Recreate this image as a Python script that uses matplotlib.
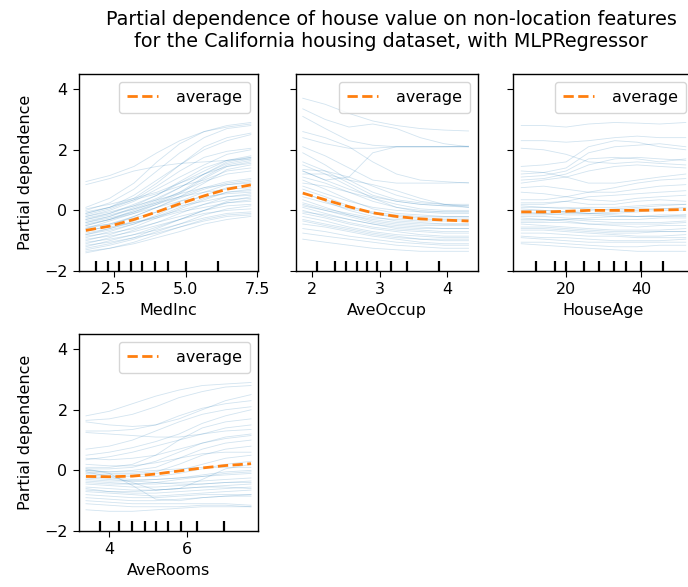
import matplotlib
matplotlib.use("Agg")
import matplotlib.pyplot as plt

W, H = 688, 587

features = ["MedInc", "AveOccup", "HouseAge", "AveRooms"]

# grids (feature values at which the curves are shown)
medinc_grid = [1.52, 2.35, 3.2, 4.0, 4.8, 5.65, 6.45, 7.28]
aveoccup_grid = [1.87, 2.2, 2.55, 2.9, 3.25, 3.6, 3.95, 4.31]
houseage_grid = [8, 14, 20, 26, 33, 39, 45, 52]
averooms_grid = [3.4, 4.0, 4.6, 5.2, 5.8, 6.4, 7.0, 7.66]

# x tick values
medinc_ticks = [2.5, 5.0, 7.5]
aveoccup_ticks = [2, 3, 4]
houseage_ticks = [20, 40]
averooms_ticks = [4, 6]

# deciles (rug ticks)
medinc_deciles = [1.87, 2.30, 2.68, 3.09, 3.49, 3.92, 4.38, 5.02, 6.15]
aveoccup_deciles = [2.08, 2.34, 2.51, 2.67, 2.82, 2.97, 3.17, 3.40, 3.87]
houseage_deciles = [12.0, 16.9, 20.0, 24.9, 28.9, 32.9, 36.0, 40.0, 45.9]
averooms_deciles = [3.76, 4.25, 4.60, 4.92, 5.22, 5.51, 5.85, 6.27, 6.97]

# average partial dependence
medinc_avg = [-0.66, -0.52, -0.30, -0.05, 0.22, 0.48, 0.70, 0.84]
aveoccup_avg = [0.57, 0.35, 0.12, -0.08, -0.20, -0.28, -0.32, -0.35]
houseage_avg = [-0.05, -0.05, -0.03, 0.0, 0.0, 0.0, 0.01, 0.03]
averooms_avg = [-0.20, -0.21, -0.19, -0.12, -0.02, 0.08, 0.16, 0.22]

# individual conditional expectation lines
medinc_ice = [
    [0.95, 1.15, 1.45, 1.9, 2.3, 2.6, 2.8, 2.9],
    [0.85, 1.05, 1.3, 1.45, 1.55, 1.6, 1.65, 1.7],
    [0.1, 0.4, 0.9, 1.6, 2.2, 2.6, 2.75, 2.85],
    [0.0, 0.25, 0.7, 1.3, 1.9, 2.4, 2.7, 2.8],
    [-0.1, 0.1, 0.5, 1.0, 1.5, 2.0, 2.3, 2.5],
    [-0.2, 0.0, 0.3, 0.7, 1.1, 1.5, 1.85, 2.0],
    [-0.3, -0.1, 0.2, 0.5, 0.9, 1.3, 1.65, 1.8],
    [-0.4, -0.2, 0.1, 0.4, 0.75, 1.2, 1.55, 1.7],
    [-0.5, -0.3, 0.0, 0.3, 0.6, 1.1, 1.5, 1.65],
    [-0.6, -0.35, -0.1, 0.2, 0.55, 1.05, 1.45, 1.6],
    [0.05, 0.2, 0.4, 0.6, 0.9, 1.2, 1.45, 1.55],
    [-0.05, 0.1, 0.35, 0.55, 0.8, 1.0, 1.3, 1.4],
    [-0.7, -0.5, -0.2, 0.1, 0.45, 0.9, 1.35, 1.5],
    [-0.8, -0.6, -0.35, -0.05, 0.3, 0.6, 0.85, 0.95],
    [-0.2, -0.05, 0.15, 0.35, 0.55, 0.75, 0.85, 0.9],
    [-0.9, -0.7, -0.45, -0.15, 0.2, 0.5, 0.75, 0.85],
    [-0.3, -0.15, 0.05, 0.25, 0.45, 0.6, 0.7, 0.75],
    [-1.0, -0.8, -0.55, -0.25, 0.05, 0.35, 0.6, 0.7],
    [-0.45, -0.3, -0.1, 0.1, 0.3, 0.45, 0.55, 0.6],
    [-1.1, -0.9, -0.65, -0.4, -0.1, 0.2, 0.45, 0.55],
    [-0.55, -0.45, -0.25, -0.05, 0.15, 0.3, 0.45, 0.5],
    [-0.75, -0.6, -0.4, -0.2, 0.0, 0.2, 0.35, 0.4],
    [-1.2, -1.0, -0.8, -0.55, -0.3, 0.0, 0.25, 0.35],
    [-0.65, -0.55, -0.4, -0.25, -0.05, 0.1, 0.25, 0.3],
    [-0.85, -0.75, -0.6, -0.4, -0.2, 0.0, 0.15, 0.2],
    [-1.3, -1.15, -0.95, -0.7, -0.45, -0.15, 0.05, 0.15],
    [-0.95, -0.85, -0.7, -0.5, -0.3, -0.1, 0.0, 0.05],
    [-1.05, -0.95, -0.8, -0.65, -0.45, -0.25, -0.1, -0.05],
    [-1.4, -1.25, -1.05, -0.8, -0.55, -0.3, -0.15, -0.1],
    [-1.15, -1.05, -0.9, -0.75, -0.55, -0.35, -0.2, -0.15],
    [-1.35, -1.25, -1.1, -0.9, -0.7, -0.45, -0.3, -0.2],
    [-0.35, -0.2, 0.05, 0.35, 0.75, 1.2, 1.6, 1.75],
    [-0.5, -0.3, -0.05, 0.25, 0.6, 0.95, 1.2, 1.3],
    [-0.6, -0.45, -0.2, 0.1, 0.4, 0.7, 0.9, 1.0],
    [-0.25, -0.1, 0.15, 0.5, 0.95, 1.4, 1.65, 1.75],
    [-0.15, 0.05, 0.35, 0.8, 1.3, 1.75, 1.95, 2.05],
    [-1.25, -1.1, -0.9, -0.6, -0.3, 0.0, 0.3, 0.45],
    [-0.8, -0.65, -0.45, -0.2, 0.1, 0.4, 0.6, 0.65],
    [-0.1, 0.1, 0.4, 0.9, 1.5, 2.1, 2.4, 2.55],
    [-0.4, -0.25, -0.05, 0.2, 0.45, 0.75, 0.95, 1.05],
]

aveoccup_ice = [
    [3.7, 3.5, 3.2, 2.95, 2.8, 2.7, 2.65, 2.62],
    [3.35, 3.0, 2.75, 2.85, 2.7, 2.4, 2.2, 2.1],
    [3.1, 2.7, 2.3, 2.15, 2.1, 2.1, 2.1, 2.1],
    [2.4, 2.2, 2.05, 2.05, 2.1, 2.1, 2.1, 2.12],
    [2.1, 1.8, 1.4, 1.0, 0.9, 0.9, 0.9, 0.92],
    [1.3, 1.0, 1.1, 1.9, 2.1, 2.1, 2.1, 2.1],
    [1.9, 1.5, 1.0, 0.6, 0.35, 0.25, 0.2, 0.15],
    [1.6, 1.3, 0.9, 0.5, 0.3, 0.2, 0.15, 0.15],
    [1.3, 1.0, 0.7, 0.45, 0.3, 0.2, 0.15, 0.1],
    [1.2, 1.2, 1.0, 0.85, 0.65, 0.4, 0.2, 0.1],
    [1.0, 0.7, 0.35, 0.05, -0.1, -0.15, -0.2, -0.2],
    [0.9, 0.8, 0.6, 0.4, 0.2, 0.05, 0.0, 0.0],
    [0.7, 0.45, 0.15, -0.1, -0.25, -0.3, -0.3, -0.3],
    [0.6, 0.3, 0.0, -0.2, -0.35, -0.4, -0.45, -0.45],
    [0.45, 0.25, 0.05, -0.1, -0.2, -0.25, -0.25, -0.25],
    [0.35, 0.1, -0.15, -0.35, -0.45, -0.5, -0.5, -0.5],
    [0.2, 0.0, -0.2, -0.4, -0.5, -0.55, -0.6, -0.6],
    [0.1, -0.1, -0.3, -0.45, -0.6, -0.65, -0.7, -0.7],
    [0.0, -0.2, -0.4, -0.55, -0.65, -0.7, -0.75, -0.75],
    [-0.1, -0.25, -0.45, -0.6, -0.7, -0.8, -0.85, -0.85],
    [-0.2, -0.35, -0.55, -0.7, -0.8, -0.85, -0.9, -0.9],
    [-0.3, -0.45, -0.6, -0.75, -0.85, -0.95, -1.0, -1.0],
    [-0.45, -0.55, -0.7, -0.85, -0.95, -1.05, -1.1, -1.1],
    [-0.6, -0.7, -0.85, -0.95, -1.05, -1.1, -1.15, -1.15],
    [-0.75, -0.85, -0.95, -1.05, -1.15, -1.2, -1.25, -1.25],
    [-0.95, -1.05, -1.15, -1.25, -1.3, -1.35, -1.35, -1.35],
    [1.5, 1.2, 0.8, 0.4, 0.1, -0.05, -0.1, -0.1],
    [2.6, 2.4, 2.1, 1.6, 1.2, 1.0, 0.95, 0.9],
    [0.8, 0.55, 0.3, 0.1, 0.0, -0.05, -0.05, -0.05],
    [0.25, 0.05, -0.1, -0.25, -0.3, -0.35, -0.35, -0.35],
    [-0.05, -0.15, -0.3, -0.45, -0.55, -0.6, -0.6, -0.6],
    [1.1, 0.9, 0.6, 0.3, 0.1, 0.0, -0.05, -0.05],
    [0.55, 0.35, 0.1, -0.05, -0.15, -0.2, -0.2, -0.2],
    [-0.35, -0.5, -0.65, -0.8, -0.9, -0.95, -0.95, -0.95],
    [1.35, 1.3, 1.1, 0.8, 0.5, 0.3, 0.2, 0.2],
    [0.15, 0.0, -0.15, -0.3, -0.4, -0.45, -0.45, -0.45],
]

houseage_ice = [
    [2.8, 2.8, 2.75, 2.85, 2.9, 2.88, 2.85, 2.9],
    [2.3, 2.3, 2.25, 2.3, 2.4, 2.45, 2.4, 2.4],
    [2.05, 2.0, 1.85, 1.6, 1.55, 1.6, 1.55, 1.5],
    [1.45, 1.5, 1.6, 2.1, 2.3, 2.25, 2.1, 2.0],
    [1.2, 1.25, 1.4, 1.9, 2.1, 2.15, 2.2, 2.1],
    [1.1, 1.15, 1.3, 1.7, 1.75, 1.7, 1.6, 1.7],
    [1.0, 1.05, 1.2, 1.5, 1.7, 1.75, 1.7, 1.65],
    [0.9, 1.0, 1.1, 1.3, 1.45, 1.5, 1.45, 1.4],
    [1.3, 1.25, 1.1, 0.9, 0.9, 1.0, 1.1, 1.2],
    [0.75, 0.8, 0.7, 0.6, 0.6, 0.7, 0.8, 0.85],
    [0.6, 0.55, 0.45, 0.35, 0.3, 0.4, 0.45, 0.5],
    [0.35, 0.35, 0.45, 0.6, 0.75, 0.9, 1.0, 1.05],
    [0.25, 0.25, 0.3, 0.2, 0.2, 0.3, 0.35, 0.3],
    [0.15, 0.1, 0.05, 0.1, 0.1, 0.15, 0.2, 0.2],
    [0.1, 0.1, 0.1, 0.05, 0.0, 0.05, 0.05, 0.1],
    [0.0, 0.0, -0.05, -0.1, -0.1, -0.05, 0.0, 0.0],
    [-0.05, -0.1, -0.15, -0.15, -0.2, -0.2, -0.15, -0.15],
    [-0.1, -0.1, -0.05, 0.0, 0.05, 0.1, 0.15, 0.2],
    [-0.2, -0.2, -0.25, -0.3, -0.3, -0.3, -0.25, -0.25],
    [-0.25, -0.3, -0.3, -0.35, -0.4, -0.4, -0.4, -0.35],
    [-0.3, -0.3, -0.35, -0.45, -0.5, -0.55, -0.5, -0.5],
    [-0.4, -0.4, -0.4, -0.45, -0.45, -0.45, -0.45, -0.4],
    [-0.45, -0.5, -0.55, -0.6, -0.65, -0.65, -0.65, -0.6],
    [-0.55, -0.55, -0.6, -0.65, -0.7, -0.7, -0.7, -0.7],
    [-0.65, -0.65, -0.7, -0.75, -0.8, -0.85, -0.85, -0.8],
    [-0.75, -0.75, -0.8, -0.85, -0.85, -0.9, -0.9, -0.9],
    [-0.85, -0.9, -0.9, -0.95, -1.0, -1.0, -1.0, -0.95],
    [-1.05, -1.05, -1.1, -1.15, -1.2, -1.2, -1.15, -1.15],
    [-1.1, -1.15, -1.2, -1.25, -1.3, -1.35, -1.35, -1.35],
    [-0.15, -0.15, -0.1, -0.1, -0.15, -0.2, -0.2, -0.2],
    [0.05, 0.0, -0.05, -0.1, -0.05, 0.0, 0.05, 0.05],
    [-0.35, -0.35, -0.3, -0.25, -0.2, -0.2, -0.2, -0.15],
    [0.2, 0.2, 0.3, 0.45, 0.5, 0.55, 0.6, 0.65],
    [-0.6, -0.6, -0.65, -0.7, -0.75, -0.75, -0.7, -0.7],
    [-0.9, -0.95, -1.0, -1.05, -1.05, -1.05, -1.05, -1.05],
]

averooms_ice = [
    [1.8, 1.95, 2.2, 2.45, 2.65, 2.8, 2.85, 2.9],
    [1.65, 1.7, 1.85, 2.1, 2.4, 2.6, 2.75, 2.8],
    [1.6, 1.5, 1.45, 1.5, 1.7, 2.0, 2.3, 2.5],
    [1.3, 1.3, 1.35, 1.5, 1.8, 2.05, 2.2, 2.3],
    [1.25, 1.2, 1.15, 1.1, 1.1, 1.2, 1.3, 1.35],
    [0.7, 0.8, 1.0, 1.3, 1.6, 1.85, 2.0, 2.1],
    [0.5, 0.6, 0.75, 0.95, 1.2, 1.55, 1.8, 2.0],
    [0.35, 0.45, 0.6, 0.8, 1.0, 1.2, 1.4, 1.5],
    [0.1, 0.1, 0.2, 0.5, 1.0, 1.4, 1.6, 1.7],
    [0.05, 0.05, 0.1, 0.3, 0.6, 0.9, 1.05, 1.15],
    [0.0, -0.05, 0.0, 0.1, 0.4, 0.7, 0.9, 1.0],
    [-0.05, -0.1, -0.1, -0.05, 0.2, 0.5, 0.7, 0.8],
    [-0.1, -0.15, -0.15, -0.1, 0.0, 0.2, 0.4, 0.5],
    [-0.15, -0.2, -0.2, -0.2, -0.1, 0.05, 0.2, 0.3],
    [-0.2, -0.25, -0.3, -0.3, -0.25, -0.15, -0.05, 0.0],
    [-0.3, -0.35, -0.35, -0.3, -0.25, -0.2, -0.15, -0.1],
    [-0.35, -0.4, -0.45, -0.45, -0.4, -0.35, -0.3, -0.25],
    [-0.45, -0.5, -0.55, -0.55, -0.5, -0.45, -0.4, -0.35],
    [-0.55, -0.6, -0.65, -0.65, -0.6, -0.55, -0.5, -0.45],
    [-0.6, -0.7, -0.75, -0.75, -0.7, -0.65, -0.6, -0.55],
    [-0.7, -0.75, -0.8, -0.85, -0.8, -0.75, -0.7, -0.65],
    [-0.8, -0.85, -0.9, -0.9, -0.85, -0.8, -0.8, -0.8],
    [-0.9, -0.95, -1.0, -1.0, -0.95, -0.9, -0.85, -0.85],
    [-1.0, -1.05, -1.1, -1.1, -1.1, -1.1, -1.1, -1.15],
    [-1.1, -1.15, -1.2, -1.2, -1.2, -1.15, -1.15, -1.2],
    [-1.3, -1.35, -1.35, -1.3, -1.25, -1.2, -1.2, -1.2],
    [0.05, -0.1, -0.5, -0.95, -1.0, -0.9, -0.85, -0.8],
    [-0.05, -0.2, -0.4, -0.65, -0.6, -0.3, 0.05, 0.2],
    [0.2, 0.15, 0.15, 0.25, 0.4, 0.55, 0.6, 0.6],
    [-0.25, -0.3, -0.35, -0.4, -0.45, -0.45, -0.4, -0.4],
    [0.0, -0.05, -0.05, 0.0, 0.05, 0.1, 0.1, 0.1],
    [-0.4, -0.45, -0.45, -0.4, -0.3, -0.2, -0.1, -0.05],
    [0.4, 0.35, 0.4, 0.5, 0.7, 0.9, 1.1, 1.2],
    [-0.65, -0.7, -0.7, -0.65, -0.6, -0.55, -0.55, -0.6],
]

title = ("Partial dependence of house value on non-location features\n"
         "for the California housing dataset, with MLPRegressor")

panels = [
    (features[0], medinc_grid, medinc_ice, medinc_avg, medinc_deciles, medinc_ticks,
     (1.28, 7.53), (79, 74, 258, 271)),
    (features[1], aveoccup_grid, aveoccup_ice, aveoccup_avg, aveoccup_deciles, aveoccup_ticks,
     (1.77, 4.45), (296, 74, 478, 271)),
    (features[2], houseage_grid, houseage_ice, houseage_avg, houseage_deciles, houseage_ticks,
     (5.8, 54.2), (513, 74, 694, 271)),
    (features[3], averooms_grid, averooms_ice, averooms_avg, averooms_deciles, averooms_ticks,
     (3.22, 7.84), (79, 334, 258, 531)),
]

FS = 11.5
plt.rcParams["font.size"] = FS
plt.rcParams["xtick.major.size"] = 4.2
plt.rcParams["ytick.major.size"] = 4.2
plt.rcParams["xtick.major.pad"] = 4.0
plt.rcParams["ytick.major.pad"] = 4.0
plt.rcParams["axes.linewidth"] = 1.0

fig = plt.figure(figsize=(W / 100, H / 100), dpi=100)

for i, (name, grid, ice, avg, dec, ticks, xlim, (l, t, r, b)) in enumerate(panels):
    ax = fig.add_axes([l / W, 1 - b / H, (r - l) / W, (b - t) / H])
    for line in ice:
        ax.plot(grid, line, color="tab:blue", alpha=0.2, linewidth=0.6)
    ax.plot(grid, avg, color="tab:orange", linestyle="--", linewidth=2, label="average")
    ax.vlines(dec, 0, 0.05, transform=ax.get_xaxis_transform(), color="k", linewidth=1.6)
    ax.set_xlim(*xlim)
    ax.set_ylim(-2.0, 4.5)
    ax.set_xticks(ticks)
    ax.set_yticks([-2, 0, 2, 4])
    ax.tick_params(labelsize=FS)
    ax.set_xlabel(name, fontsize=FS)
    if i in (0, 3):
        ax.set_ylabel("Partial dependence", fontsize=FS, labelpad=8)
    else:
        ax.set_yticklabels([])
    ax.legend(loc="upper right", fontsize=FS, handletextpad=1.1, borderpad=0.5)

fig.text(391 / W, 1 - 10 / H, title, ha="center", va="top", fontsize=13.8, linespacing=1.2)

fig.savefig("out.png", dpi=100)
